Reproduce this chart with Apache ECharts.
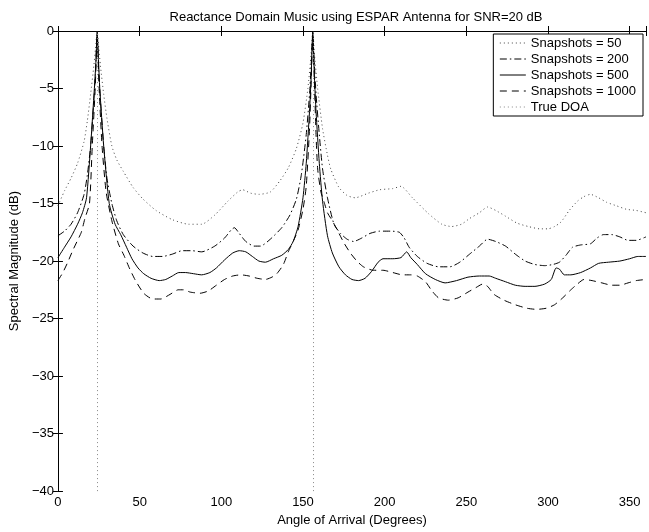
<!DOCTYPE html>
<html>
<head>
<meta charset="utf-8">
<title>ESPAR MUSIC</title>
<script src="https://cdn.jsdelivr.net/npm/echarts@6/dist/echarts.min.js"></script>
</head>
<body style="margin:0;padding:0;background:#fff;">
<div id="main" style="width:649px;height:532px;"></div>
<script type="text/javascript">
// angles (deg) and spectrum (dB)
var ang50 = [0,4,8,12,16,18,20,22,23,24,25,26,28,30,33,36,40,46,52,60,70,80,88,96,104,110,113,118,123,130,136,141,146,150,153,155,156,157,159,162,165,167,172,177,182,190,197,205,210,217,227,235,241,247,252,258,263,268,274,281,288,295,300,304,308,313,318,322,326,331,336,342,348,354,360];
var snap50 = [-15.2,-13.9,-12.8,-11.5,-9.6,-7.8,-5.5,-3,-1.5,0,-1.5,-3,-5.5,-7.6,-10,-11.2,-12.2,-13.6,-14.6,-15.6,-16.4,-16.8,-16.8,-16.0,-14.8,-14.0,-13.8,-14.1,-14.2,-14.0,-13.0,-11.9,-10.2,-8,-5,-2,0,-2,-5,-8.5,-10.8,-12.0,-13.6,-14.3,-14.5,-14.1,-13.8,-13.7,-13.5,-14.5,-15.9,-16.8,-17.0,-16.8,-16.3,-15.8,-15.3,-15.6,-16.1,-16.7,-17.0,-17.2,-17.2,-17.0,-16.6,-15.6,-14.8,-14.4,-14.2,-14.5,-14.9,-15.2,-15.5,-15.6,-15.8];

var ang200 = [0,4,8,12,16,18,20,22,23,24,25,26,28,30,33,36,40,46,52,58,64,70,76,82,88,96,102,106,108,111,115,120,124,130,137,142,146,149,152,154,155,156,157,158,160,162,165,169,173,177,181,186,191,197,204,209,212,215,220,226,233,240,246,252,258,263,268,274,280,286,292,298,303,307,311,315,320,326,330,334,339,344,349,354,360];
var snap200 = [-17.8,-17.4,-16.8,-15.8,-14.2,-12.5,-10,-6,-3.5,-0.5,-3.5,-6,-10,-12.8,-15,-16.5,-17.7,-18.7,-19.3,-19.6,-19.6,-19.4,-19.1,-19.1,-19.2,-18.7,-18.0,-17.3,-17.1,-17.6,-18.3,-18.7,-18.7,-18.1,-17.1,-16.0,-14.6,-12.5,-9,-5.5,-3,-0.5,-3,-5.5,-9,-12,-14.5,-16.8,-17.6,-18.1,-18.3,-18.0,-17.6,-17.4,-17.4,-17.5,-18.0,-18.8,-19.6,-20.2,-20.5,-20.5,-20.1,-19.4,-18.7,-18.1,-18.3,-18.7,-19.4,-20.0,-20.3,-20.4,-20.3,-20.1,-19.5,-18.8,-18.6,-18.5,-18.0,-17.7,-17.7,-17.9,-18.2,-18.2,-17.9];

var ang500 = [0,4,8,12,15,17.5,20,22.3,23.3,24,24.8,25.6,28,31.4,35,38.4,42,45.3,49,52.5,57,62,66,70,74,78,83,88,93,97,102,107,111,115,119,123,127,132,137,141,144,147,150,152,154,155,156,157,158,160,162,165,168,172,176,180,184,188,192,196,199,205,210,213.5,216,220,225,231,237,244,251,258,264,268,274,280,286,292,298,302,305,307,310,314,320,326,331,337,344,350,355,360];
var snap500 = [-19.7,-18.8,-17.9,-16.8,-15.8,-14.5,-10,-5,-2.5,0,-2.5,-5,-10,-15,-16.8,-17.7,-18.8,-19.8,-20.6,-21.1,-21.5,-21.7,-21.6,-21.3,-21.0,-21.0,-21.1,-21.2,-21.0,-20.6,-19.9,-19.3,-19.1,-19.2,-19.6,-20.0,-20.1,-19.8,-19.5,-19.0,-18.3,-17,-14.5,-11.5,-7,-4,0,-4,-7,-11.5,-14.8,-17.8,-19.3,-20.5,-21.2,-21.6,-21.7,-21.5,-20.9,-20.1,-19.8,-19.8,-19.7,-19.2,-19.7,-20.3,-21.1,-21.6,-21.9,-21.7,-21.4,-21.3,-21.3,-21.5,-21.8,-22.1,-22.2,-22.2,-22.0,-21.6,-20.6,-20.7,-21.2,-21.2,-21.0,-20.6,-20.2,-20.1,-20.0,-19.8,-19.6,-19.6];

var ang1000 = [0,3,6,9,12,14.3,16.5,19.3,21,22.8,24,25.2,27,29.5,33,37,40.4,44,47.5,52.5,58,63,68.6,73.6,77,81,87,92,97,102,107,112,117,122,127,131,134,138,141,144,147,150,152,154,155,156,157,158,159,161,163,165,168,171,175,179,183,187,193,199,205,211,216,220,225,229,233,239,245,251,256,260,263,267,273,280,287,293,299,304,309,314,318,322,327,333,339,344,349,354,360];
var snap1000 = [-21.7,-21.0,-20.1,-19.1,-18.2,-17.5,-16.3,-15,-10,-5,-0.5,-5,-10,-14,-16.5,-18.5,-19.5,-20.7,-21.7,-22.8,-23.3,-23.3,-22.9,-22.5,-22.5,-22.7,-22.8,-22.6,-22.1,-21.6,-21.3,-21.2,-21.3,-21.5,-21.6,-21.4,-21.1,-20.3,-19.2,-18.3,-17.3,-15.5,-13.5,-8.5,-4.5,-0.5,-4.5,-9,-12,-14,-14.9,-15.8,-16.5,-17.3,-18.4,-19.3,-20.0,-20.5,-20.8,-20.8,-21.0,-21.2,-21.2,-21.3,-21.8,-22.6,-23.2,-23.4,-23.2,-22.7,-22.3,-22.0,-22.2,-22.9,-23.4,-23.8,-24.1,-24.2,-24.1,-23.8,-23.2,-22.5,-22.0,-21.6,-21.7,-21.9,-22.1,-22.1,-21.9,-21.7,-21.6];

var doaAngles = [24, 156];
var xTicks = [0, 50, 100, 150, 200, 250, 300, 350];

function pairs(a, v) {
    var out = [];
    for (var i = 0; i < a.length; i++) out.push([a[i], v[i]]);
    return out;
}

var myChart = echarts.init(document.getElementById('main'));
var font = 'Liberation Sans, Arial, Helvetica, sans-serif';

function minus(v) { return String(v).replace('-', '\u2212'); }

var option = {
    animation: false,
    backgroundColor: '#fff',
    title: {
        text: 'Reactance Domain Music using ESPAR Antenna for SNR=20 dB',
        left: 351,
        top: 6,
        textAlign: 'center',
        textStyle: { fontFamily: font, fontSize: 13, fontWeight: 'normal', color: '#000' }
    },
    legend: {
        orient: 'vertical',
        right: 6,
        top: 34,
        backgroundColor: '#fff',
        borderColor: '#000',
        borderWidth: 1,
        padding: [2, 7, 2, 6],
        itemWidth: 26,
        itemHeight: 10,
        itemGap: 2,
        itemTextGap: 8,
        itemStyle: { opacity: 0 },
        lineStyle: { width: 1 },
        textStyle: { fontFamily: font, fontSize: 13, color: '#000', lineHeight: 14 },
        data: ['Snapshots = 50', 'Snapshots = 200', 'Snapshots = 500', 'Snapshots = 1000', 'True DOA']
    },
    grid: { left: 53, right: 1, top: 31, bottom: 34 },
    xAxis: [{
        type: 'value', min: 0, max: 360, interval: 50,
        name: 'Angle of Arrival (Degrees)', nameLocation: 'middle', nameGap: 22,
        nameTextStyle: { fontFamily: font, fontSize: 13, color: '#000' },
        axisLine: { lineStyle: { color: '#000', width: 1 } },
        axisTick: { inside: true, length: 5, lineStyle: { color: '#000' } },
        axisLabel: { fontFamily: font, fontSize: 13, color: '#000', margin: 5,
            formatter: function (v) { return xTicks.indexOf(v) >= 0 ? String(v) : ''; } },
        splitLine: { show: false }
    }, {
        type: 'value', min: 0, max: 360, interval: 50, position: 'top',
        axisLine: { lineStyle: { color: '#000', width: 1 } },
        axisTick: { inside: true, length: 5, lineStyle: { color: '#000' } },
        axisLabel: { show: false },
        splitLine: { show: false }
    }],
    yAxis: [{
        type: 'value', min: -40, max: 0, interval: 5,
        name: 'Spectral Magnitude (dB)', nameLocation: 'middle', nameGap: 36,
        nameTextStyle: { fontFamily: font, fontSize: 13, color: '#000' },
        axisLine: { show: true, lineStyle: { color: '#000', width: 1 } },
        axisTick: { show: true, inside: true, length: 5, lineStyle: { color: '#000' } },
        axisLabel: { fontFamily: font, fontSize: 13, color: '#000', margin: 4, formatter: minus },
        splitLine: { show: false }
    }, {
        type: 'value', min: -40, max: 0, interval: 5, position: 'right',
        axisLine: { show: true, lineStyle: { color: '#000', width: 1 } },
        axisTick: { show: true, inside: true, length: 5, lineStyle: { color: '#000' } },
        axisLabel: { show: false },
        splitLine: { show: false }
    }],
    series: [{
        name: 'Snapshots = 50', type: 'line', symbol: 'none', smooth: 0.2,
        lineStyle: { color: '#444', width: 1, type: [1, 3] },
        itemStyle: { color: '#444' },
        data: pairs(ang50, snap50)
    }, {
        name: 'Snapshots = 200', type: 'line', symbol: 'none', smooth: 0.2,
        lineStyle: { color: '#000', width: 1, type: [7, 3, 1.5, 3] },
        itemStyle: { color: '#000' },
        data: pairs(ang200, snap200)
    }, {
        name: 'Snapshots = 500', type: 'line', symbol: 'none', smooth: 0.2,
        lineStyle: { color: '#000', width: 1 },
        itemStyle: { color: '#000' },
        data: pairs(ang500, snap500)
    }, {
        name: 'Snapshots = 1000', type: 'line', symbol: 'none', smooth: 0.2,
        lineStyle: { color: '#000', width: 1, type: [7, 5] },
        itemStyle: { color: '#000' },
        data: pairs(ang1000, snap1000)
    }, {
        name: 'True DOA', type: 'line', symbol: 'none',
        lineStyle: { color: '#888', width: 1, type: [1, 3] },
        itemStyle: { color: '#888' },
        data: [],
        markLine: {
            silent: true, symbol: 'none', label: { show: false },
            lineStyle: { color: '#888', width: 1, type: [1, 3] },
            data: doaAngles.map(function (a) { return { xAxis: a }; })
        }
    }]
};
myChart.setOption(option);
</script>
</body>
</html>
